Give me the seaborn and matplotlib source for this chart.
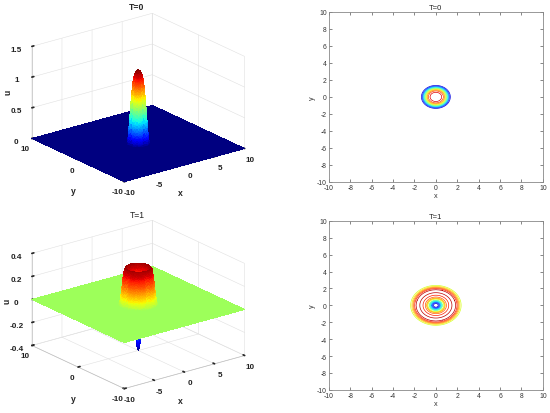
import numpy as np
import matplotlib
matplotlib.use("Agg")
import matplotlib.pyplot as plt
import seaborn as sns

sns.set_theme(style="white")
plt.rcParams['font.family'] = ['Liberation Sans', 'DejaVu Sans']
plt.rcParams['axes.unicode_minus'] = False

# Radial profiles u(r) (surface is radially symmetric)
r_t0 = [0.0, 0.3, 0.5, 0.6, 0.7, 0.8, 0.9, 1.0, 1.1, 1.2, 1.3, 1.4, 1.5]
u_t0 = [1.2, 1.18, 1.12, 1.07, 1.0, 0.9, 0.77, 0.62, 0.46, 0.3, 0.15, 0.05, 0.0]
r_t1 = [0.0, 0.2, 0.3, 0.4, 0.5, 0.6, 0.7, 0.8, 0.9, 1.2, 1.5, 1.65, 1.85, 2.0, 2.15, 2.3, 2.45, 2.6]
u_t1 = [-0.40, -0.36, -0.30, -0.22, -0.14, -0.06, 0.02, 0.1, 0.18, 0.25, 0.3, 0.32, 0.3, 0.24, 0.15, 0.07, 0.02, 0.0]

# Contour levels and colour limits
levels_t0 = [0.1, 0.2, 0.3, 0.4, 0.5, 0.6, 0.7, 0.8, 0.9, 1.0, 1.1]
levels_t1 = [-0.35, -0.3, -0.25, -0.2, -0.15, -0.1, -0.05, 0.05, 0.1, 0.15, 0.2, 0.25, 0.3]
clim_t0 = (0.0, 1.2)
clim_t1 = (-0.4, 0.34)

titles = ["T=0", "T=1"]
x3d_ticks = [-10, -5, 0, 5, 10]
y3d_ticks = [-10, 0, 10]
z_ticks_t0 = [0, 0.5, 1, 1.5]
z_ticks_t1 = [-0.4, -0.2, 0, 0.2, 0.4]
z_lims = [(0, 1.5), (-0.4, 0.4)]
c_ticks = [-10, -8, -6, -4, -2, 0, 2, 4, 6, 8, 10]

cmap = plt.get_cmap("jet")

# grid: dense near the bump, coarse on the flat part
g = np.concatenate([np.linspace(-10, -3, 8)[:-1], np.linspace(-3, 3, 121), np.linspace(3, 10, 8)[1:]])
X, Y = np.meshgrid(g, g)
R = np.hypot(X, Y)
gc = np.linspace(-10, 10, 801)
XC, YC = np.meshgrid(gc, gc)
RC = np.hypot(XC, YC)

profiles = [(r_t0, u_t0), (r_t1, u_t1)]
levels = [levels_t0, levels_t1]
zticks = [z_ticks_t0, z_ticks_t1]
clims = [clim_t0, clim_t1]

W, H = 550.0, 414.0
fig = plt.figure(figsize=(5.5, 4.14), dpi=100)

def fxy(px, py):
    return px / W, 1 - py / H

pos3d = [[-0.024, 0.49, 0.54, 0.53], [-0.024, -0.01, 0.54, 0.53]]
posc = [[0.598, 0.558, 0.389, 0.411], [0.598, 0.056, 0.389, 0.408]]
# pixel anchors of the 3-D panel texts (title, u, y, x)
title_px = [(137, 7), (137, 216)]
u_px = [(8, 92), (7, 301)]
y_px = [(73, 192), (73, 400)]
x_px = [(180, 193), (180, 402)]

fs = 5.2
fs3 = 5.9
for i in range(2):
    rp, up = profiles[i]
    Z = np.interp(R, rp, up)
    ZC = np.interp(RC, rp, up)
    vmin, vmax = clims[i]

    ax = fig.add_axes(pos3d[i], projection='3d')
    ax.set_proj_type('ortho')
    ax.plot_surface(X, Y, Z, cmap=cmap, vmin=vmin, vmax=vmax,
                    linewidth=0, antialiased=False, rstride=1, cstride=1, shade=False)
    ax.view_init(elev=21, azim=-127.5)
    ax.set_box_aspect((1, 1, 0.65), zoom=1.045)
    ax.set_xlim(-10, 10)
    ax.set_ylim(-10, 10)
    ax.set_zlim(*z_lims[i])
    ax.set_xticks(x3d_ticks)
    ax.set_yticks(y3d_ticks)
    ax.set_zticks(zticks[i])
    ax.set_zticklabels([f"{v:g}" for v in zticks[i]])
    for a in (ax.xaxis, ax.yaxis, ax.zaxis):
        a.set_pane_color((1, 1, 1, 1))
        a._axinfo['grid']['color'] = (0.88, 0.88, 0.88, 1)
        a._axinfo['grid']['linewidth'] = 0.4
        a.line.set_color((0.75, 0.75, 0.75))
        a.line.set_linewidth(0.5)
        a._axinfo['tick']['inward_factor'] = 0.0
        a._axinfo['tick']['outward_factor'] = 0.2
    ax.tick_params(axis='z', labelsize=fs3, pad=-2)
    ax.tick_params(axis='y', labelsize=fs3, pad=-3.5)
    ax.tick_params(axis='x', labelsize=fs3, pad=-3.5)
    for lab in ax.get_xticklabels() + ax.get_yticklabels() + ax.get_zticklabels():
        lab.set_fontweight('bold')
        lab.set_color('#222222')
    kw = dict(transform=fig.transFigure, ha='center', va='center', fontsize=fs3 + 0.3,
              fontweight='bold', color='#222222')
    ax.text2D(*fxy(*u_px[i]), 'u', rotation=90, **kw)
    ax.text2D(*fxy(*y_px[i]), 'y', **kw)
    ax.text2D(*fxy(*x_px[i]), 'x', **kw)
    kw['fontweight'] = 'bold' if i == 0 else 'normal'
    ax.text2D(*fxy(*title_px[i]), titles[i], **kw)

    axc = fig.add_axes(posc[i])
    axc.contour(XC, YC, ZC, levels=levels[i], cmap=cmap, vmin=vmin, vmax=vmax, linewidths=0.5)
    axc.set_xlim(-10, 10)
    axc.set_ylim(-10, 10)
    axc.set_xticks(c_ticks)
    axc.set_yticks(c_ticks)
    axc.tick_params(direction='in', length=2, width=0.5, labelsize=fs - 0.3, top=True, right=True,
                    bottom=True, left=True, colors='#555555', labelcolor='#333333', pad=1.5)
    for s in axc.spines.values():
        s.set_color('#888888')
        s.set_linewidth(0.6)
    axc.set_xlabel('x', fontsize=fs, labelpad=0.5, color='#333333')
    axc.set_ylabel('y', fontsize=fs, labelpad=0.5, color='#333333')
    axc.set_title(titles[i], fontsize=fs + 0.3, pad=2, color='#222222')

fig.savefig("out.png", dpi=100)
